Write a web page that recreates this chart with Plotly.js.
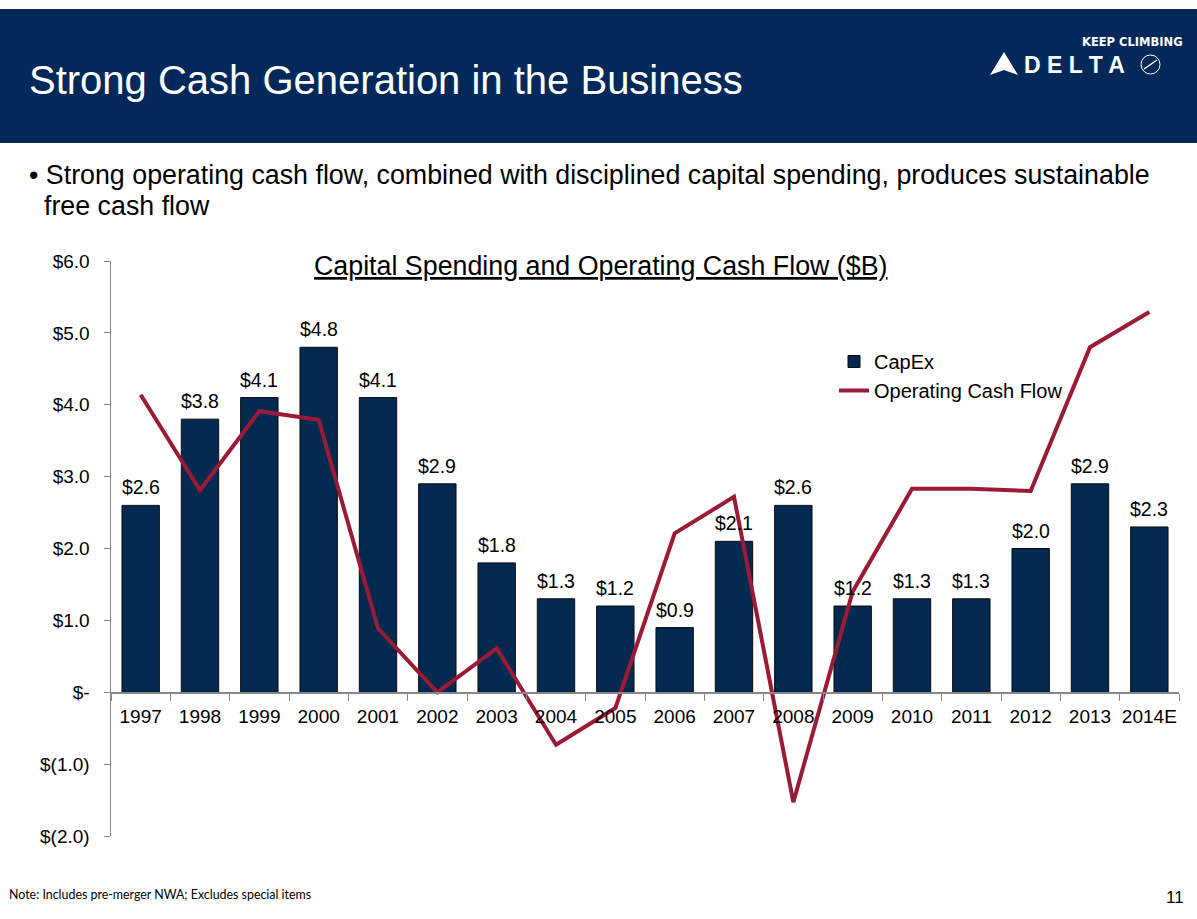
<!DOCTYPE html>
<html>
<head>
<meta charset="utf-8">
<script src="https://cdn.plot.ly/plotly-3.0.1.min.js"></script>
<style>
html,body{margin:0;padding:0;background:#fff;}
#chart{width:1197px;height:919px;}
</style>
</head>
<body>
<div id="chart"></div>
<script>
// ---- data ----
var years = ['1997','1998','1999','2000','2001','2002','2003','2004','2005','2006','2007','2008','2009','2010','2011','2012','2013','2014E'];
var capex = [2.6, 3.8, 4.1, 4.8, 4.1, 2.9, 1.8, 1.3, 1.2, 0.9, 2.1, 2.6, 1.2, 1.3, 1.3, 2.0, 2.9, 2.3];
var operatingCashFlow = [4.14, 2.81, 3.91, 3.79, 0.89, 0.0, 0.61, -0.73, -0.22, 2.21, 2.72, -1.53, 1.40, 2.83, 2.83, 2.80, 4.80, 5.29];
var yTickVals = [-2, -1, 0, 1, 2, 3, 4, 5, 6];
var yTickText = ['$(2.0)', '$(1.0)', '$-', '$1.0', '$2.0', '$3.0', '$4.0', '$5.0', '$6.0'];

// ---- page geometry helpers (pixel -> paper) ----
var W = 1197, H = 919, L = 111, R = 1179, T = 261, B = 836;
function px(x) { return (x - L) / (R - L); }
function py(y) { return (B - y) / (B - T); }

var FONT = 'Liberation Sans, Arial, sans-serif';
var NAVY = '#03295a';
var BAR = '#022a51';
var RED = '#9b1b36';

var traces = [
  {
    type: 'bar', name: 'CapEx', x: years, y: capex,
    marker: {color: BAR, line: {color: '#0d0d0d', width: 1}},
    hoverinfo: 'skip'
  },
  {
    type: 'scatter', mode: 'lines', name: 'Operating Cash Flow', x: years, y: operatingCashFlow,
    line: {color: RED, width: 4},
    hoverinfo: 'skip'
  }
];

var shapes = [
  {type: 'rect', xref: 'paper', yref: 'paper', x0: px(0), x1: px(W), y0: py(143), y1: py(9),
   fillcolor: NAVY, line: {width: 0}, layer: 'below'},
  // delta widget triangle
  {type: 'path', xref: 'paper', yref: 'paper',
   path: 'M ' + px(1004) + ' ' + py(52) + ' L ' + px(990) + ' ' + py(75) + ' L ' + px(1004) + ' ' + py(70) +
         ' L ' + px(1018) + ' ' + py(75) + ' Z',
   fillcolor: '#ffffff', line: {width: 0}},
  // globe
  {type: 'circle', xref: 'paper', yref: 'paper', x0: px(1141), x1: px(1160), y0: py(74), y1: py(55),
   line: {color: '#ffffff', width: 1}, fillcolor: 'rgba(0,0,0,0)'},
  {type: 'line', xref: 'paper', yref: 'paper', x0: px(1144), x1: px(1157), y0: py(69), y1: py(60),
   line: {color: '#ffffff', width: 1.5}}
];

var annotations = [
  {xref: 'paper', yref: 'paper', x: px(27), y: py(80), xanchor: 'left', yanchor: 'middle', showarrow: false,
   text: 'Strong Cash Generation in the Business', font: {family: FONT, size: 40, color: '#ffffff'}},
  {xref: 'paper', yref: 'paper', x: px(1185), y: py(42), xanchor: 'right', yanchor: 'middle', showarrow: false,
   text: '<b>KEEP CLIMBING</b>', font: {family: 'DejaVu Sans, sans-serif', size: 11.5, color: '#ffffff'}},
  {xref: 'paper', yref: 'paper', x: px(1022), y: py(65), xanchor: 'left', yanchor: 'middle', showarrow: false,
   text: '<b>D E L T A</b>', font: {family: FONT, size: 23, color: '#ffffff'}},
  {xref: 'paper', yref: 'paper', x: px(27), y: py(175), xanchor: 'left', yanchor: 'middle', showarrow: false,
   text: '\u2022 Strong operating cash flow, combined with disciplined capital spending, produces sustainable',
   font: {family: FONT, size: 26.8, color: '#000'}},
  {xref: 'paper', yref: 'paper', x: px(42), y: py(206), xanchor: 'left', yanchor: 'middle', showarrow: false,
   text: 'free cash flow', font: {family: FONT, size: 26.8, color: '#000'}},
  {xref: 'paper', yref: 'paper', x: px(600), y: py(266), xanchor: 'center', yanchor: 'middle', showarrow: false,
   text: '<u>Capital Spending and Operating Cash Flow ($B)</u>', font: {family: FONT, size: 26.8, color: '#000'}},
  {xref: 'paper', yref: 'paper', x: px(7), y: py(894), xanchor: 'left', yanchor: 'middle', showarrow: false,
   text: 'Note: Includes pre-merger NWA; Excludes special items', font: {family: 'Lato, Open Sans, sans-serif', size: 12.4, color: '#000'}},
  {xref: 'paper', yref: 'paper', x: px(1186), y: py(897), xanchor: 'right', yanchor: 'middle', showarrow: false,
   text: '11', font: {family: FONT, size: 17, color: '#000'}}
];

// bar value labels, placed through the data axes (category index)
years.forEach(function (yr, i) {
  annotations.push({
    xref: 'x', yref: 'y', x: i, y: capex[i], xanchor: 'center', yanchor: 'bottom', yshift: 5,
    showarrow: false, text: '$' + capex[i].toFixed(1),
    font: {family: FONT, size: 19.5, color: '#000'}
  });
});

var layout = {
  width: W, height: H,
  margin: {l: L, r: W - R, t: T, b: H - B, pad: 0},
  paper_bgcolor: '#ffffff', plot_bgcolor: 'rgba(0,0,0,0)',
  showlegend: true,
  legend: {x: px(834), y: py(342), xanchor: 'left', yanchor: 'top', bgcolor: 'rgba(0,0,0,0)',
           font: {family: FONT, size: 20, color: '#000'}, traceorder: 'normal', tracegroupgap: 0,
           itemwidth: 30},
  bargap: 0.37,
  xaxis: {type: 'category', range: [-0.5, 17.5], anchor: 'free', position: 0.25,
          showline: true, linecolor: '#888', linewidth: 1.5, tickangle: 0,
          ticks: 'outside', tickson: 'boundaries', ticklen: 7, tickcolor: '#888',
          showgrid: false, zeroline: false, fixedrange: true, ticklabelstandoff: 6,
          tickfont: {family: FONT, size: 19, color: '#000'}},
  yaxis: {range: [-2, 6], tickvals: yTickVals, ticktext: yTickText,
          showline: true, linecolor: '#888', linewidth: 1.5,
          ticks: 'outside', ticklen: 6, tickcolor: '#888',
          showgrid: false, zeroline: false, fixedrange: true, ticklabelstandoff: 10,
          tickfont: {family: FONT, size: 19, color: '#000'}},
  shapes: shapes,
  annotations: annotations
};

Plotly.newPlot('chart', traces, layout, {staticPlot: true, displayModeBar: false});
</script>
</body>
</html>
